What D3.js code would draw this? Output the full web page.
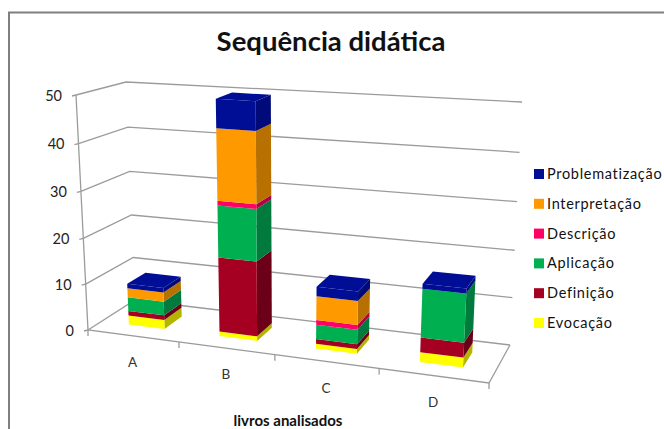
<!DOCTYPE html>
<html><head><meta charset="utf-8">
<script src="https://cdn.jsdelivr.net/npm/d3@7/dist/d3.min.js"></script>
<style>html,body{margin:0;padding:0;background:#fff}svg{display:block}text{font-family:Lato,"Open Sans",sans-serif}</style>
</head><body><div id="c"></div>
<script>
const categories=["A","B","C","D"];
const seriesNames=["Evocação","Definição","Aplicação","Descrição","Interpretação","Problematização"];
const evocacao=[2,1,1,2];
const definicao=[1,16,1,3];
const aplicacao=[3,11,3,10];
const descricao=[0,1,1,0];
const interpretacao=[2,15,5,0];
const problematizacao=[1,6,2,1];
const seriesValues=[evocacao,definicao,aplicacao,descricao,interpretacao,problematizacao];
const frontColors=["#FFFF00","#A50021","#00AF50","#FF0066","#FF9900","#000E96"];
const sideColors=["#B5B500","#6B0018","#007A3D","#B00048","#B87000","#000A78"];
const yTicks=[0,10,20,30,40,50];

const W=664,H=429;
const svg=d3.select("#c").append("svg").attr("width",W).attr("height",H);

// vertical edges of the 3D box: x and y as a function of the value (slight perspective)
const v=d3.scaleLinear().domain(yTicks).range([0,.195,.39,.59,.793,1]);
const edge=(x0,y0,x1,y1)=>{
  const h=d3.scaleLinear().domain([0,1]);
  const hx=h.copy().range([x0,x1]),hy=h.copy().range([y0,y1]);
  return {x:t=>hx(v(t)),y:t=>hy(v(t))};
};
const FL=edge(88,330,76,95), FR=edge(489,383,503,123), BL=edge(135,300,126,82), BR=edge(510,345,522,102);
// perspective-warped category position along the floor
const uScale=d3.scaleLinear().domain([0,1,2,3,4]).range([0,.227,.466,.726,1]);
const lerp=(a,b,t)=>a+(b-a)*t;
function P(u,d,val){
  const x=lerp(lerp(FL.x(val),FR.x(val),u),lerp(BL.x(val),BR.x(val),u),d);
  const y=lerp(lerp(FL.y(val),FR.y(val),u),lerp(BL.y(val),BR.y(val),u),d);
  return [x,y];
}
const poly=d3.line().curve(d3.curveLinearClosed);
const GRID="#9b9b9b";

// frame
svg.append("path").attr("d","M9,429V12.5H664").attr("fill","none").attr("stroke","#7f7f7f").attr("stroke-width",2);

// title
svg.append("text").attr("x",331).attr("y",51).attr("text-anchor","middle")
  .attr("font-size",27.5).attr("font-weight",700).attr("fill","#111").text("Sequência didática");

const g=svg.append("g").attr("fill","none").attr("stroke",GRID).attr("stroke-width",1.3);
yTicks.forEach(t=>{
  g.append("path").attr("d",d3.line()([P(0,0,t),P(0,1,t),P(1,1,t)]));
  const a=P(0,0,t);
  g.append("path").attr("d",d3.line()([a,[a[0]-4,a[1]+1]]));
  svg.append("text").attr("x",a[0]-14).attr("y",a[1]+5.5).attr("text-anchor","end")
    .attr("font-size",14.5).attr("fill","#222").text(t);
});
// axes and floor
g.append("path").attr("d",d3.line()([P(0,0,50),P(0,0,0),P(1,0,0),P(1,1,0)]));
[0,1,2,3,4].forEach(i=>{
  const a=P(uScale(i),0,0);
  g.append("path").attr("d",d3.line()([a,[a[0],a[1]+6]]));
});

// stacked bars
const barFrac=.4, d0=.3, d1=.7;
categories.forEach((cat,i)=>{
  const uc=uScale(i+.5), hw=(uScale(i+1)-uScale(i))*barFrac/2;
  const u0=uc-hw,u1=uc+hw;
  let base=0;
  seriesValues.forEach((vals,s)=>{
    const top=base+vals[i];
    if(vals[i]>0){
      svg.append("path").attr("d",poly([P(u1,d0,base),P(u1,d1,base),P(u1,d1,top),P(u1,d0,top)])).attr("fill",sideColors[s]);
      svg.append("path").attr("d",poly([P(u0,d0,base),P(u1,d0,base),P(u1,d0,top),P(u0,d0,top)])).attr("fill",frontColors[s]);
    }
    base=top;
  });
  const ts=seriesValues.map(a=>a[i]>0).lastIndexOf(true);
  svg.append("path").attr("d",poly([P(u0,d0,base),P(u1,d0,base),P(u1,d1,base),P(u0,d1,base)])).attr("fill",frontColors[ts]);
  const f=P(uc,0,0);
  svg.append("text").attr("x",f[0]-1).attr("y",f[1]+31).attr("text-anchor","middle")
    .attr("font-size",13.5).attr("fill","#333").text(cat);
});

// x-axis title
svg.append("text").attr("x",288).attr("y",426).attr("text-anchor","middle")
  .attr("font-size",15).attr("font-weight",700).attr("fill","#111").text("livros analisados");

// legend
const ly=d3.scalePoint().domain(seriesNames.slice().reverse()).range([174,323]);
seriesNames.forEach((n,s)=>{
  svg.append("rect").attr("x",534).attr("y",ly(n)-5).attr("width",10).attr("height",10).attr("fill",frontColors[s]);
  svg.append("text").attr("x",547).attr("y",ly(n)+5).attr("font-size",14.5).attr("letter-spacing",.7).attr("fill","#111").text(n);
});
</script></body></html>
